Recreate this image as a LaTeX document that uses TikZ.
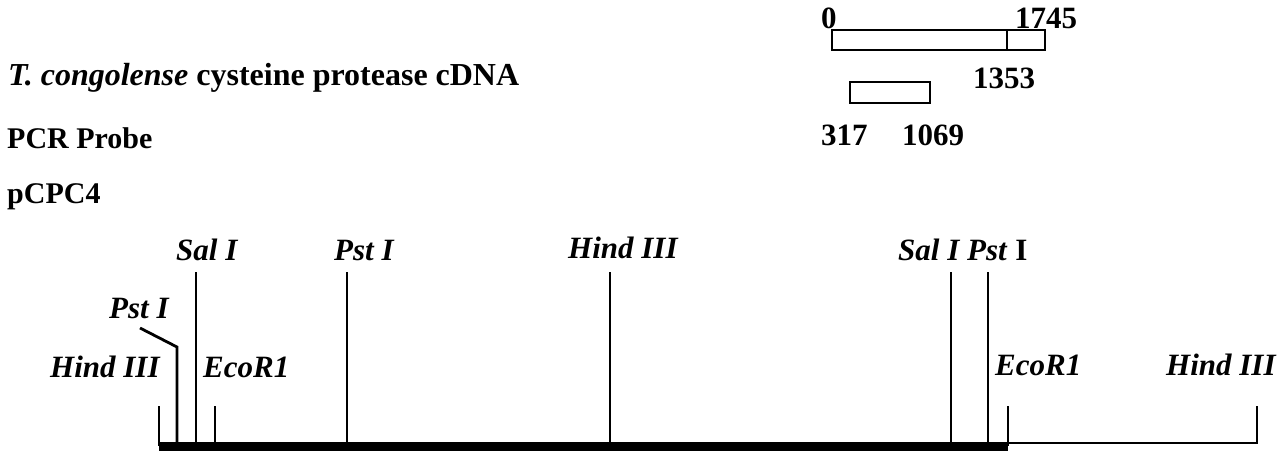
\documentclass[tikz,border=0pt]{standalone}
\usepackage{fontspec}
\setmainfont{Liberation Serif}
\begin{document}
\begin{tikzpicture}[x=1pt,y=-1pt,
  txt/.style={font=\fontsize{31}{36}\selectfont\bfseries, inner sep=0pt, anchor=base west},
  site/.style={txt, font=\fontsize{31}{36}\selectfont\bfseries\itshape},
  tick/.style={line width=2.8pt},
  frame/.style={draw, line width=2.6pt}]
\useasboundingbox (0,0) rectangle (1284,453);

% left-hand legend
\node[txt, font=\fontsize{32}{38}\selectfont\bfseries] (title) at (8,85) {\textit{T. congolense} cysteine protease cDNA};
\node[txt, font=\fontsize{30}{36}\selectfont\bfseries] (probe) at (7,148) {PCR Probe};
\node[txt, font=\fontsize{30}{36}\selectfont\bfseries] (plasmid) at (7,203) {pCPC4};

% cDNA bar with coding region and 3' tail
\coordinate (c0) at (832,30);
\coordinate (c1353) at (1007,30);
\coordinate (c1745) at (1045,50);
\draw[frame] (c0) rectangle (c1745);
\draw[frame] (c1353) -- (c1353 |- c1745);
\node[txt] (l0) at (821,28) {0};
\node[txt] (l1745) at (1015,28) {1745};
\node[txt] (l1353) at (973,88) {1353};

% PCR probe fragment
\coordinate (p0) at (850,82);
\coordinate (p1) at (930,103);
\draw[frame] (p0) rectangle (p1);
\node[txt] (l317) at (821,145) {317};
\node[txt] (l1069) at (902,145) {1069};

% restriction map of the insert (thick) and vector (thin)
\coordinate (bl) at (159,446);
\coordinate (br) at (1008,446);
\coordinate (vr) at (1257,443);
\draw[line width=9pt] (bl) -- (br);
\draw[tick] (1008,443) -- (vr) -- (1257,406);

% sites
\coordinate (hA) at (159,406);
\coordinate (pA) at (177,347);
\coordinate (pAk) at (140,328);
\coordinate (sA) at (196,272);
\coordinate (eA) at (215,406);
\coordinate (pB) at (347,272);
\coordinate (hB) at (610,272);
\coordinate (sB) at (951,272);
\coordinate (pC) at (988,272);
\coordinate (eB) at (1008,406);

\draw[tick] (hA) -- (hA |- bl);
\draw[tick] (pAk) -- (pA) -- (pA |- bl);
\draw[tick] (sA) -- (sA |- bl);
\draw[tick] (eA) -- (eA |- bl);
\draw[tick] (pB) -- (pB |- bl);
\draw[tick] (hB) -- (hB |- bl);
\draw[tick] (sB) -- (sB |- bl);
\draw[tick] (pC) -- (pC |- bl);
\draw[tick] (eB) -- (eB |- bl);

% site labels
\node[site] (t1) at (50,377) {Hind III};
\node[site] (t2) at (109,318) {Pst I};
\node[site] (t3) at (176,260) {Sal I};
\node[site] (t4) at (203,377) {EcoR1};
\node[site] (t5) at (334,260) {Pst I};
\node[site] (t6) at (568,258) {Hind III};
\node[site] (t7) at (898,260) {Sal I \textit{Pst} \textup{I}};
\node[site] (t8) at (995,375) {EcoR1};
\node[site] (t9) at (1166,375) {Hind III};
\end{tikzpicture}
\end{document}
